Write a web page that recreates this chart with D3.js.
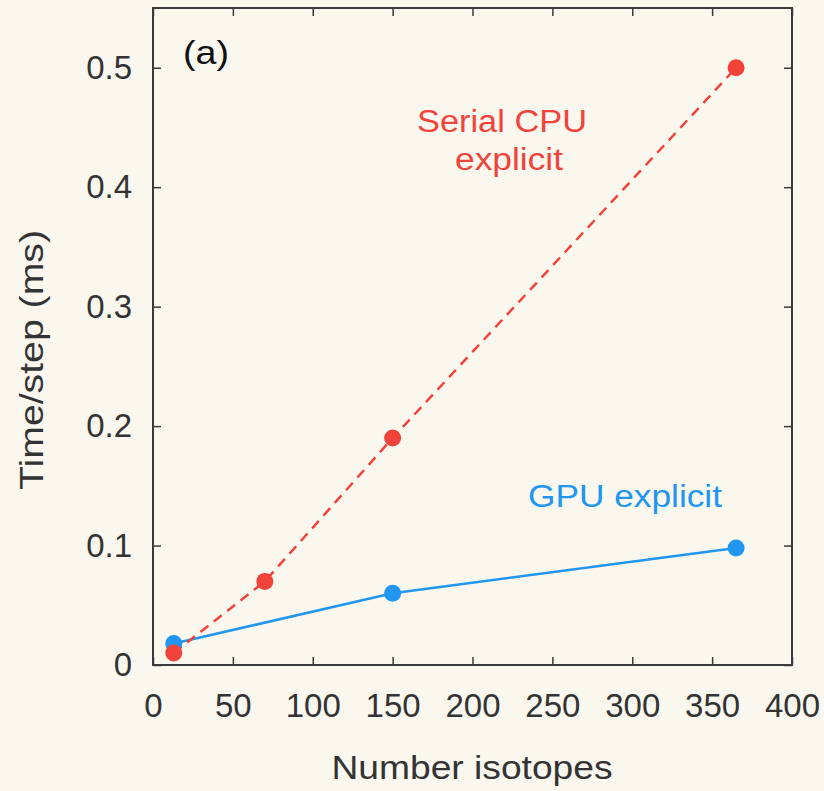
<!DOCTYPE html>
<html>
<head>
<meta charset="utf-8">
<script src="https://cdn.jsdelivr.net/npm/d3@7"></script>
<style>
  html, body { margin: 0; padding: 0; background: #faf8ee; }
  svg { display: block; }
  text { font-family: "Liberation Sans", Arial, Helvetica, sans-serif; }
</style>
</head>
<body>
<svg id="chart" width="824" height="791"></svg>
<script>
// Timing per step versus network size
const cpuIsotopes = [13, 70, 150, 365];
const cpuTimes    = [0.010, 0.070, 0.190, 0.500];
const gpuIsotopes = [13, 150, 365];
const gpuTimes    = [0.018, 0.060, 0.098];

const xTicks = [0, 50, 100, 150, 200, 250, 300, 350, 400];
const yTicks = [0, 0.1, 0.2, 0.3, 0.4, 0.5];
const yTickLabels = ["0", "0.1", "0.2", "0.3", "0.4", "0.5"];

const W = 824, H = 791;
const margin = { top: 8, right: 32, bottom: 126, left: 153 };
const innerW = W - margin.left - margin.right;
const innerH = H - margin.top - margin.bottom;

const red = "#f2433b";
const blue = "#2196f0";

const svg = d3.select("#chart");
svg.append("rect").attr("width", W).attr("height", H).attr("fill", "#faf8ee");

const g = svg.append("g").attr("transform", `translate(${margin.left},${margin.top})`);

const x = d3.scaleLinear().domain([0, 400]).range([0, innerW]);
const y = d3.scaleLinear().domain([0, 0.55]).range([innerH, 0]);

// Axes with inward ticks on all four sides
const axisColor = "#3a3a3a";
function styleAxis(sel) {
  sel.select(".domain").remove();
  sel.selectAll(".tick line").attr("stroke", axisColor).attr("stroke-width", 1.5);
  sel.selectAll(".tick text").style("fill", "#333").attr("font-size", 33)
     .attr("font-family", "'Liberation Sans', Arial, sans-serif");
}

g.append("g").attr("transform", `translate(0,${innerH})`)
  .call(d3.axisBottom(x).tickValues(xTicks).tickSize(-8).tickPadding(29).tickFormat(d3.format("d")))
  .call(styleAxis);
g.append("g").attr("transform", `translate(0,0)`)
  .call(d3.axisTop(x).tickValues(xTicks).tickSize(-8).tickFormat(""))
  .call(styleAxis);
g.append("g")
  .call(d3.axisLeft(y).tickValues(yTicks).tickSize(-8).tickPadding(21)
    .tickFormat((d, i) => yTickLabels[i]))
  .call(styleAxis);
g.append("g").attr("transform", `translate(${innerW},0)`)
  .call(d3.axisRight(y).tickValues(yTicks).tickSize(-8).tickFormat(""))
  .call(styleAxis);

// Frame
g.append("rect").attr("x", 0).attr("y", 0).attr("width", innerW).attr("height", innerH)
  .attr("fill", "none").attr("stroke", axisColor).attr("stroke-width", 2);

// Series lines
const line = d3.line().x(d => x(d[0])).y(d => y(d[1]));
const gpu = gpuIsotopes.map((v, i) => [v, gpuTimes[i]]);
const cpu = cpuIsotopes.map((v, i) => [v, cpuTimes[i]]);

g.append("path").datum(gpu).attr("d", line)
  .attr("fill", "none").attr("stroke", blue).attr("stroke-width", 2.5);
g.append("path").datum(cpu).attr("d", line)
  .attr("fill", "none").attr("stroke", red).attr("stroke-width", 2.5)
  .attr("stroke-dasharray", "10,7");

g.selectAll("circle.gpu").data(gpu).enter().append("circle")
  .attr("class", "gpu").attr("cx", d => x(d[0])).attr("cy", d => y(d[1]))
  .attr("r", 8.5).attr("fill", blue);
g.selectAll("circle.cpu").data(cpu).enter().append("circle")
  .attr("class", "cpu").attr("cx", d => x(d[0])).attr("cy", d => y(d[1]))
  .attr("r", 8.5).attr("fill", red);

// Labels
function label(txt, cx, baseline, size, len, color, rotate) {
  const t = svg.append("text")
    .attr("text-anchor", "middle")
    .attr("font-size", size)
    .style("fill", color)
    .attr("textLength", len)
    .attr("lengthAdjust", "spacingAndGlyphs")
    .text(txt);
  if (rotate) {
    t.attr("transform", `translate(${cx},${baseline}) rotate(-90)`);
  } else {
    t.attr("x", cx).attr("y", baseline);
  }
  return t;
}

label("(a)", 206, 64, 33, 46, "#111");
label("Serial CPU", 502, 132, 31, 170, red);
label("explicit", 509, 170, 31, 108, red);
label("GPU explicit", 625, 507, 31, 194, blue);
label("Number isotopes", 472, 779, 34, 281, "#333");
label("Time/step (ms)", 43, 360, 34, 260, "#333", true);
</script>
</body>
</html>
